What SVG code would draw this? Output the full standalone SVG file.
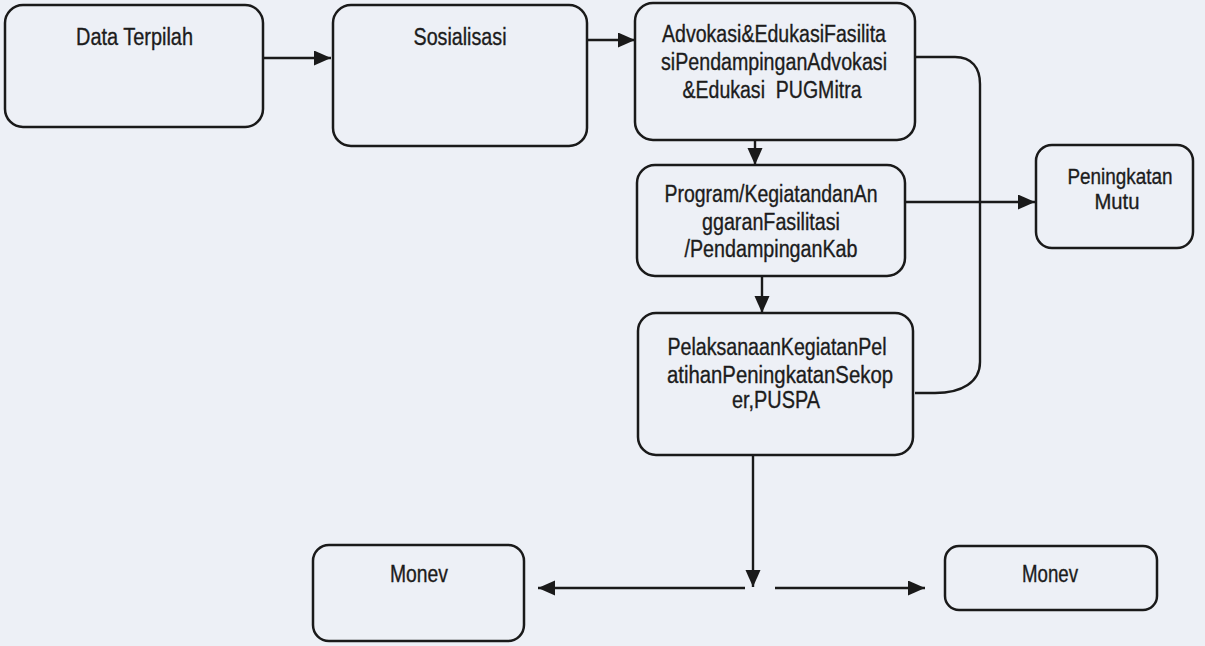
<svg xmlns="http://www.w3.org/2000/svg" width="1205" height="646" viewBox="0 0 1205 646">
  <style>
    .box { fill: none; stroke: #1a1a1a; stroke-width: 2.5; }
    .lbl { font-family: "Liberation Sans", Arial, sans-serif; font-size: 23px; fill: #1c1c1c; stroke: #1c1c1c; stroke-width: 0.35; text-anchor: middle; }
    .lbl.sm { font-size: 22px; }
    .conn { fill: none; stroke: #1a1a1a; stroke-width: 2.4; stroke-linecap: butt; }
  </style>
  <defs>
    <marker id="arrow" markerUnits="userSpaceOnUse" markerWidth="20" markerHeight="16" refX="17" refY="7.5" orient="auto">
      <path d="M0,0 L17,7.5 L0,15 Z" fill="#1a1a1a"/>
    </marker>
  </defs>

  <rect width="1205" height="646" fill="#edf0f6"/>

  <!-- connectors -->
  <g id="connectors">
    <line class="conn" x1="263" y1="58" x2="331" y2="58" marker-end="url(#arrow)"/>
    <line class="conn" x1="587" y1="40" x2="635" y2="40" marker-end="url(#arrow)"/>
    <line class="conn" x1="755" y1="140" x2="755" y2="165" marker-end="url(#arrow)"/>
    <line class="conn" x1="905" y1="202" x2="1035" y2="202" marker-end="url(#arrow)"/>
    <line class="conn" x1="762" y1="276" x2="762" y2="313" marker-end="url(#arrow)"/>
    <!-- return loop from Pelaksanaan back up to Advokasi -->
    <path class="conn" d="M915,57 L955,57 C972,57 980,68 980,84 L980,362 C980,382 962,393 935,393 L915,393"/>
    <line class="conn" x1="753" y1="455" x2="753" y2="587" marker-end="url(#arrow)"/>
    <line class="conn" x1="745" y1="588" x2="538" y2="588" marker-end="url(#arrow)"/>
    <line class="conn" x1="775" y1="588" x2="925" y2="588" marker-end="url(#arrow)"/>
  </g>

  <g id="node-data-terpilah">
    <rect class="box" x="5" y="5" width="258" height="122" rx="18"/>
    <text class="lbl" x="134.5" y="45" textLength="117" lengthAdjust="spacingAndGlyphs">Data Terpilah</text>
  </g>

  <g id="node-sosialisasi">
    <rect class="box" x="333" y="5" width="254" height="141" rx="18"/>
    <text class="lbl" x="460" y="45" textLength="93" lengthAdjust="spacingAndGlyphs">Sosialisasi</text>
  </g>

  <g id="node-advokasi">
    <rect class="box" x="635" y="3" width="280" height="137" rx="18"/>
    <text class="lbl" x="774" y="42" textLength="224" lengthAdjust="spacingAndGlyphs">Advokasi&amp;EdukasiFasilita</text>
    <text class="lbl" x="774" y="70" textLength="226" lengthAdjust="spacingAndGlyphs">siPendampinganAdvokasi</text>
    <text class="lbl" x="772" y="98" textLength="179" lengthAdjust="spacingAndGlyphs" xml:space="preserve">&amp;Edukasi  PUGMitra</text>
  </g>

  <g id="node-program">
    <rect class="box" x="637" y="165" width="268" height="111" rx="18"/>
    <text class="lbl" x="771" y="202" textLength="213" lengthAdjust="spacingAndGlyphs">Program/KegiatandanAn</text>
    <text class="lbl" x="771" y="230" textLength="138" lengthAdjust="spacingAndGlyphs">ggaranFasilitasi</text>
    <text class="lbl" x="771" y="257" textLength="173" lengthAdjust="spacingAndGlyphs">/PendampinganKab</text>
  </g>

  <g id="node-pelaksanaan">
    <rect class="box" x="638" y="313" width="275" height="142" rx="18"/>
    <text class="lbl" x="777" y="355" textLength="219" lengthAdjust="spacingAndGlyphs">PelaksanaanKegiatanPel</text>
    <text class="lbl" x="780" y="383" textLength="226" lengthAdjust="spacingAndGlyphs">atihanPeningkatanSekop</text>
    <text class="lbl" x="776" y="408" textLength="88" lengthAdjust="spacingAndGlyphs">er,PUSPA</text>
  </g>

  <g id="node-peningkatan-mutu">
    <rect class="box" x="1036" y="145" width="157" height="103" rx="16"/>
    <text class="lbl sm" x="1120" y="184" textLength="105" lengthAdjust="spacingAndGlyphs">Peningkatan</text>
    <text class="lbl sm" x="1117" y="209" textLength="45" lengthAdjust="spacingAndGlyphs">Mutu</text>
  </g>

  <g id="node-monev-left">
    <rect class="box" x="313" y="545" width="211" height="96" rx="16"/>
    <text class="lbl" x="419" y="582" textLength="58" lengthAdjust="spacingAndGlyphs">Monev</text>
  </g>

  <g id="node-monev-right">
    <rect class="box" x="945" y="546" width="212" height="64" rx="14"/>
    <text class="lbl" x="1050" y="582" textLength="56" lengthAdjust="spacingAndGlyphs">Monev</text>
  </g>
</svg>
